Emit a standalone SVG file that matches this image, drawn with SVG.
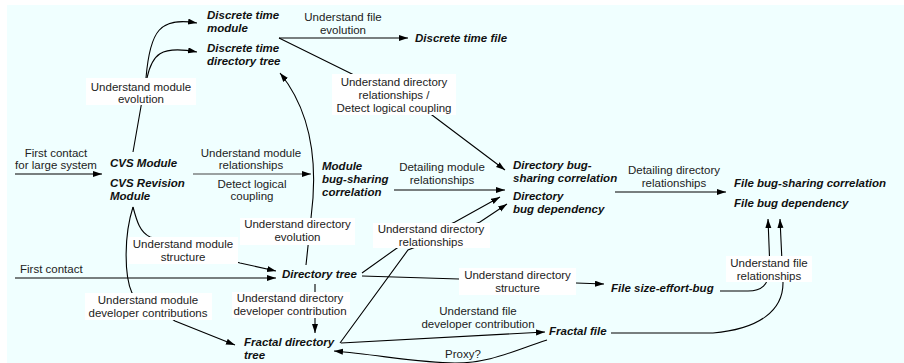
<svg xmlns="http://www.w3.org/2000/svg" width="904" height="363" viewBox="0 0 904 363">
<defs>
<marker id="ah" markerUnits="userSpaceOnUse" markerWidth="10" markerHeight="8" refX="9" refY="3" orient="auto">
<path d="M0,0 L9,3 L0,6 z" fill="#000"/>
</marker>
<style>
.bg{fill:#f0ffff}
.c{fill:none;stroke:#000;stroke-width:1.1;marker-end:url(#ah)}
.lb{fill:#fff}
.lt{font-family:"Liberation Sans",Arial,sans-serif;font-size:11.5px;fill:#222;text-anchor:middle}
.ls{font-family:"Liberation Sans",Arial,sans-serif;font-size:11.5px;fill:#222}
.nt{font-family:"Liberation Sans",Arial,sans-serif;font-size:11.5px;font-weight:bold;font-style:italic;fill:#111}
</style>
</defs>
<rect x="0" y="0" width="904" height="363" fill="#fff"/>
<rect class="bg" x="7" y="5" width="897" height="358"/>

<g id="connectors">
<path class="c" d="M133,152 L146,78 C150,30 160,17 197,23"/>
<path class="c" d="M147,78 C152,55 160,45 197,52"/>
<path class="c" d="M279,38 L408,38"/>
<path class="c" d="M279,38 L352,74 L432,115 L505,170"/>
<path class="c" d="M15,174 L102,174"/>
<path class="c" d="M193,174 L311,174" style="stroke:#444"/>
<path class="c" d="M394,190 L505,190"/>
<path class="c" d="M615,192 L726,192"/>
<path class="c" d="M306,265 L311,218 C316,180 318,120 280,73"/>
<path class="c" d="M133,207 C137,222 140,232 150,237 L240,263 L276,271"/>
<path class="c" d="M133,207 C124,235 124,275 132,293 L175,321 L235,345"/>
<path class="c" d="M15,278 L276,278"/>
<path class="c" d="M315,284 L315,333"/>
<path class="c" d="M362,273 L397,248 L455,222 L500,197"/>
<path class="c" d="M340,343 L408,250 L480,222 L507,204"/>
<path class="c" d="M362,276 L459,279 L576,283 L604,284"/>
<path class="c" d="M341,343 L545,332"/>
<path class="c" d="M547,340 C510,352 490,363 455,363 C420,363 380,355 334,351"/>
<path class="c" d="M720,291 L748,291 C762,291 768,285 770,270 L768,219"/>
<path class="c" d="M611,333 L713,333 C760,329 783,310 783,283 L780,219"/>
</g>

<g id="edge-labels">
<rect class="lb" x="86" y="78" width="110" height="27"/>
<text class="lt" x="141" y="90.5">Understand module</text>
<text class="lt" x="141" y="103">evolution</text>

<text class="lt" x="343" y="21">Understand file</text>
<text class="lt" x="343" y="34">evolution</text>

<rect class="lb" x="332" y="74" width="124" height="41"/>
<text class="lt" x="394" y="85.5">Understand directory</text>
<text class="lt" x="394" y="98.5">relationships /</text>
<text class="lt" x="394" y="111.5">Detect logical coupling</text>

<text class="lt" x="56" y="157">First contact</text>
<text class="lt" x="56" y="169">for large system</text>

<text class="ls" x="20" y="273">First contact</text>

<text class="lt" x="251" y="157">Understand module</text>
<text class="lt" x="251" y="169">relationships</text>
<text class="lt" x="252" y="187.5">Detect logical</text>
<text class="lt" x="252" y="200">coupling</text>

<text class="lt" x="442" y="171">Detailing module</text>
<text class="lt" x="442" y="183.5">relationships</text>

<text class="lt" x="674" y="174">Detailing directory</text>
<text class="lt" x="674" y="186.5">relationships</text>

<rect class="lb" x="240" y="218" width="115" height="27"/>
<text class="lt" x="297.5" y="228">Understand directory</text>
<text class="lt" x="297.5" y="241">evolution</text>

<rect class="lb" x="128" y="237" width="110" height="27"/>
<text class="lt" x="183" y="248">Understand module</text>
<text class="lt" x="183" y="260.5">structure</text>

<rect class="lb" x="373" y="223" width="117" height="25"/>
<text class="lt" x="431" y="233">Understand directory</text>
<text class="lt" x="431" y="245.5">relationships</text>

<rect class="lb" x="459" y="268" width="117" height="27"/>
<text class="lt" x="517.5" y="279">Understand directory</text>
<text class="lt" x="517.5" y="292">structure</text>

<rect class="lb" x="232" y="292" width="118" height="26"/>
<text class="lt" x="290" y="302">Understand directory</text>
<text class="lt" x="290" y="314.5">developer contribution</text>

<rect class="lb" x="85" y="293" width="127" height="27"/>
<text class="lt" x="148" y="304">Understand module</text>
<text class="lt" x="148" y="317">developer contributions</text>

<text class="lt" x="478" y="315">Understand file</text>
<text class="lt" x="478" y="328">developer contribution</text>

<text class="lt" x="463" y="358">Proxy?</text>

<rect class="lb" x="726" y="256" width="86" height="26"/>
<text class="lt" x="769" y="267">Understand file</text>
<text class="lt" x="769" y="279.5">relationships</text>
</g>

<g id="n-discrete-time-module"><text class="nt" x="207" y="18.5">Discrete time</text><text class="nt" x="207" y="31.5">module</text></g>
<g id="n-discrete-time-directory-tree"><text class="nt" x="207" y="52">Discrete time</text><text class="nt" x="207" y="65">directory tree</text></g>
<g id="n-discrete-time-file"><text class="nt" x="415" y="42">Discrete time file</text></g>
<g id="n-cvs-module"><text class="nt" x="110" y="167">CVS Module</text></g>
<g id="n-cvs-revision-module"><text class="nt" x="110" y="186.5">CVS Revision</text><text class="nt" x="110" y="199.5">Module</text></g>
<g id="n-module-bug-sharing"><text class="nt" x="322" y="170">Module</text><text class="nt" x="322" y="183">bug-sharing</text><text class="nt" x="322" y="196">correlation</text></g>
<g id="n-directory-bug-sharing"><text class="nt" x="513" y="168.5">Directory bug-</text><text class="nt" x="513" y="181.5">sharing correlation</text></g>
<g id="n-directory-bug-dependency"><text class="nt" x="513" y="199.5">Directory</text><text class="nt" x="513" y="212.5">bug dependency</text></g>
<g id="n-file-bug-sharing"><text class="nt" x="734" y="187">File bug-sharing correlation</text></g>
<g id="n-file-bug-dependency"><text class="nt" x="734" y="207">File bug dependency</text></g>
<g id="n-directory-tree"><text class="nt" x="282" y="278">Directory tree</text></g>
<g id="n-file-size-effort-bug"><text class="nt" x="611" y="292">File size-effort-bug</text></g>
<g id="n-fractal-directory-tree"><text class="nt" x="244" y="346">Fractal directory</text><text class="nt" x="244" y="358.5">tree</text></g>
<g id="n-fractal-file"><text class="nt" x="549" y="335">Fractal file</text></g>
</svg>
